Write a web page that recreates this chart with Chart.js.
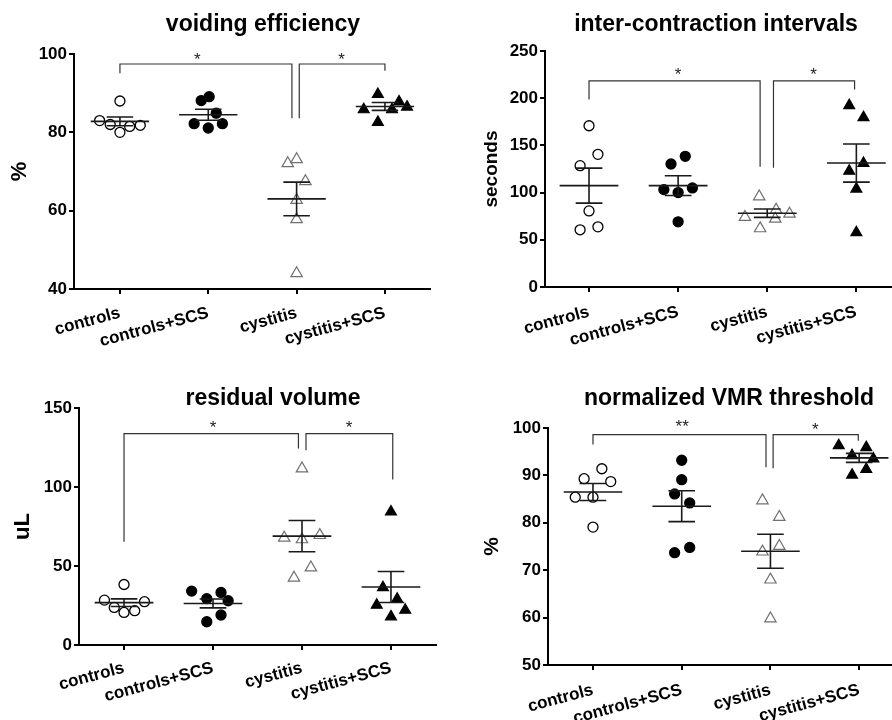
<!DOCTYPE html>
<html>
<head>
<meta charset="utf-8">
<title>Bladder function panels</title>
<script src="https://cdn.jsdelivr.net/npm/chart.js@4.4.1/dist/chart.umd.min.js"></script>
<style>
  body { margin: 0; background: #fff; }
  .panel { position: absolute; width: 446px; height: 360px; }
</style>
</head>
<body>
<div class="panel" style="left:0;top:0"><canvas id="c1" width="446" height="360"></canvas></div>
<div class="panel" style="left:446px;top:0"><canvas id="c2" width="446" height="360"></canvas></div>
<div class="panel" style="left:0;top:360px"><canvas id="c3" width="446" height="360"></canvas></div>
<div class="panel" style="left:446px;top:360px"><canvas id="c4" width="446" height="360"></canvas></div>
<script>
const categories = ['controls', 'controls+SCS', 'cystitis', 'cystitis+SCS'];

// voiding efficiency (%)
const veTicks = [40, 60, 80, 100];
const veControls = [88.0, 83.0, 82.0, 80.0, 81.5, 81.8];
const veControlsSCS = [88.1, 89.1, 84.9, 82.2, 81.1, 82.2];
const veCystitis = [72.1, 73.1, 67.5, 62.7, 57.8, 44.0];
const veCystitisSCS = [89.7, 87.8, 85.8, 86.5, 85.8, 82.6];
const veMean = [82.8, 84.5, 63.0, 86.6];
const veSem = [1.1, 1.4, 4.3, 1.0];
const veJitter = [
  [0, -0.23, -0.11, 0, 0.11, 0.23],
  [-0.08, 0.01, 0.09, -0.16, 0, 0.16],
  [-0.1, 0, 0.1, 0, 0, 0],
  [-0.08, 0.16, -0.24, 0.25, 0.08, -0.08]
];
const veBrackets = [
  [[0, 95.1], [0, 97.45], [1.947, 97.45], [1.947, 83.6]],
  [[2.03, 83.6], [2.03, 97.45], [3, 97.45], [3, 95.75]]
];
const veStars = [['*', 0.875, 99.5], ['*', 2.51, 99.5]];

// inter-contraction intervals (seconds)
const iciTicks = [0, 50, 100, 150, 200, 250];
const iciControls = [170.8, 140.5, 128.5, 80.6, 60.6, 63.7];
const iciControlsSCS = [130.3, 138.4, 103.2, 100.0, 104.9, 69.0];
const iciCystitis = [95.8, 74.0, 81.7, 72.2, 77.5, 62.0];
const iciCystitisSCS = [192.3, 179.6, 131.0, 122.9, 103.9, 57.7];
const iciMean = [107.4, 107.4, 78.2, 131.3];
const iciSem = [18.5, 10.5, 4.4, 20.2];
const iciJitter = [
  [0, 0.1, -0.1, 0, -0.1, 0.1],
  [-0.08, 0.08, -0.16, 0, 0.16, 0],
  [-0.09, -0.25, 0.1, 0.09, 0.25, -0.08],
  [-0.08, 0.08, 0.08, -0.08, 0, 0]
];
const iciBrackets = [
  [[0, 198.6], [0, 218.3], [1.92, 218.3], [1.92, 127.5]],
  [[2.07, 126.4], [2.07, 218.3], [2.98, 218.3], [2.98, 209.2]]
];
const iciStars = [['*', 1.0, 228.5], ['*', 2.52, 228.5]];

// residual volume (uL)
const rvTicks = [0, 50, 100, 150];
const rvControls = [38.3, 28.4, 27.4, 23.8, 20.6, 21.7];
const rvControlsSCS = [34.1, 33.3, 29.3, 28.0, 19.0, 14.7];
const rvCystitis = [111.6, 67.8, 66.8, 69.5, 49.0, 42.5];
const rvCystitisSCS = [84.3, 36.4, 29.1, 25.3, 22.1, 17.9];
const rvMean = [26.8, 26.3, 68.9, 36.7];
const rvSem = [2.4, 2.8, 9.9, 9.8];
const rvJitter = [
  [0, -0.22, 0.23, -0.11, 0, 0.12],
  [-0.24, 0.09, -0.07, 0.17, 0.09, -0.07],
  [0, -0.2, 0, 0.2, 0.1, -0.09],
  [0, -0.09, 0.07, -0.16, 0.16, 0]
];
const rvBrackets = [
  [[0, 65.3], [0, 133.8], [1.96, 133.8], [1.96, 124.3]],
  [[2.045, 123.2], [2.045, 133.8], [3.02, 133.8], [3.02, 104.7]]
];
const rvStars = [['*', 1.0, 139.7], ['*', 2.53, 139.7]];

// normalized VMR threshold (%)
const vmrTicks = [50, 60, 70, 80, 90, 100];
const vmrControls = [91.4, 89.3, 88.7, 85.4, 85.4, 79.1];
const vmrControlsSCS = [93.2, 89.1, 86.1, 84.2, 74.8, 73.7];
const vmrCystitis = [84.7, 81.2, 75.1, 73.9, 68.0, 59.8];
const vmrCystitisSCS = [96.3, 95.9, 94.2, 93.5, 91.3, 90.1];
const vmrMean = [86.5, 83.5, 74.0, 93.7];
const vmrSem = [1.8, 3.25, 3.6, 0.95];
const vmrJitter = [
  [0.1, -0.1, 0.2, -0.2, 0, 0],
  [0, 0, -0.08, 0.09, 0.09, -0.08],
  [-0.09, 0.1, 0.1, -0.09, 0, 0],
  [-0.23, 0.08, -0.08, 0.16, 0.08, -0.08]
];
const vmrBrackets = [
  [[0, 96.5], [0, 98.6], [1.95, 98.6], [1.95, 91.7]],
  [[2.03, 91.5], [2.03, 98.6], [2.99, 98.6], [2.99, 97.3]]
];
const vmrStars = [['**', 1.005, 101.06], ['*', 2.505, 100.35]];

Chart.defaults.font.family = '"Liberation Sans", Arial, Helvetica, sans-serif';
Chart.defaults.color = '#000';

const groupStyles = [
  { pointStyle: 'circle', radius: 5, bg: '#ffffff', border: '#000000', bw: 1.3 },
  { pointStyle: 'circle', radius: 5, bg: '#000000', border: '#000000', bw: 1.3 },
  { pointStyle: 'triangle', radius: 6.6, bg: '#ffffff', border: '#707070', bw: 1.2 },
  { pointStyle: 'triangle', radius: 6.3, bg: '#000000', border: '#000000', bw: 1.2 }
];

// panel title drawn in canvas pixels
const panelTitle = {
  id: 'panelTitle',
  afterDraw(chart, args, opts) {
    const ctx = chart.ctx;
    ctx.save();
    ctx.font = 'bold 23px "Liberation Sans", Arial, sans-serif';
    ctx.fillStyle = '#000';
    ctx.textAlign = 'center';
    ctx.textBaseline = 'middle';
    ctx.fillText(opts.text, opts.x, opts.y);
    ctx.restore();
  }
};

// significance stars placed in data units
const sigStars = {
  id: 'sigStars',
  afterDatasetsDraw(chart, args, opts) {
    const ctx = chart.ctx;
    const xs = chart.scales.x, ys = chart.scales.y;
    ctx.save();
    ctx.font = '17px "Liberation Sans", Arial, sans-serif';
    ctx.fillStyle = '#222';
    ctx.textAlign = 'center';
    ctx.textBaseline = 'middle';
    opts.items.forEach(([txt, x, y]) => {
      ctx.fillText(txt, xs.getPixelForValue(x), ys.getPixelForValue(y) + 4);
    });
    ctx.restore();
  }
};

function summaryPoints(means, sems) {
  const pts = [];
  means.forEach((m, i) => {
    const s = sems[i];
    pts.push({ x: i - 0.33, y: m }, { x: i + 0.33, y: m }, { x: i, y: null });
    pts.push({ x: i - 0.15, y: m + s }, { x: i + 0.15, y: m + s }, { x: i, y: null });
    pts.push({ x: i - 0.15, y: m - s }, { x: i + 0.15, y: m - s }, { x: i, y: null });
    pts.push({ x: i, y: m - s }, { x: i, y: m + s }, { x: i, y: null });
  });
  return pts;
}

function makePanel(p) {
  const datasets = [];
  datasets.push({
    type: 'line',
    data: summaryPoints(p.mean, p.sem),
    borderColor: '#1a1a1a',
    borderWidth: 1.6,
    pointRadius: 0,
    spanGaps: false,
    fill: false,
    order: 0
  });
  p.brackets.forEach(b => {
    datasets.push({
      type: 'line',
      data: b.map(([x, y]) => ({ x, y })),
      borderColor: '#333',
      borderWidth: 1.2,
      pointRadius: 0,
      fill: false,
      clip: false,
      order: 0
    });
  });
  p.groups.forEach((vals, g) => {
    const st = groupStyles[g];
    datasets.push({
      type: 'scatter',
      label: categories[g],
      data: vals.map((v, k) => ({ x: g + p.jitter[g][k], y: v })),
      pointStyle: st.pointStyle,
      pointRadius: st.radius,
      pointBackgroundColor: st.bg,
      pointBorderColor: st.border,
      pointBorderWidth: st.bw,
      order: 1
    });
  });

  const L = p.layout;
  return new Chart(document.getElementById(p.id), {
    type: 'scatter',
    data: { datasets },
    plugins: [panelTitle, sigStars],
    options: {
      responsive: false,
      animation: false,
      events: [],
      layout: { autoPadding: false, padding: L.pad },
      plugins: {
        legend: { display: false },
        title: { display: false },
        tooltip: { enabled: false },
        panelTitle: { text: p.title, x: L.titleX, y: L.titleY },
        sigStars: { items: p.stars }
      },
      scales: {
        x: {
          type: 'linear',
          min: L.xMin,
          max: L.xMax,
          afterBuildTicks: s => { s.ticks = categories.map((c, i) => ({ value: i })); },
          afterFit: s => { s.height = L.xH; },
          ticks: {
            callback: v => categories[v],
            minRotation: 15,
            maxRotation: 15,
            padding: L.xPad,
            autoSkip: false,
            font: { size: 17, weight: 'bold' },
            color: '#000'
          },
          grid: { drawOnChartArea: false, drawTicks: true, tickLength: 5, lineWidth: 2, color: '#000' },
          border: { display: true, color: '#000', width: 2 }
        },
        y: {
          type: 'linear',
          min: p.yTicks[0],
          max: p.yTicks[p.yTicks.length - 1],
          afterBuildTicks: s => { s.ticks = p.yTicks.map(v => ({ value: v })); },
          afterFit: s => { s.width = L.yW; },
          ticks: { padding: 2, font: { size: 17, weight: 'bold' }, color: '#000' },
          grid: { drawOnChartArea: false, drawTicks: true, tickLength: 5, lineWidth: 2, color: '#000' },
          border: { display: true, color: '#000', width: 2 },
          title: {
            display: true,
            text: p.yLabel,
            font: { size: L.yTitleSize, weight: 'bold' },
            color: '#000',
            padding: { top: L.yTitlePad, bottom: 0 }
          }
        }
      }
    }
  });
}

makePanel({
  id: 'c1', title: 'voiding efficiency', yLabel: '%', yTicks: veTicks,
  groups: [veControls, veControlsSCS, veCystitis, veCystitisSCS],
  jitter: veJitter, mean: veMean, sem: veSem, brackets: veBrackets, stars: veStars,
  layout: { yW: 74, xH: 71, pad: { left: 0, top: 54, right: 16, bottom: 0 }, xMin: -0.52, xMax: 3.51,
            xPad: 9, titleX: 263, titleY: 25, yTitleSize: 22, yTitlePad: 7 }
});
makePanel({
  id: 'c2', title: 'inter-contraction intervals', yLabel: 'seconds', yTicks: iciTicks,
  groups: [iciControls, iciControlsSCS, iciCystitis, iciCystitisSCS],
  jitter: iciJitter, mean: iciMean, sem: iciSem, brackets: iciBrackets, stars: iciStars,
  layout: { yW: 99, xH: 73, pad: { left: 0, top: 51, right: 0, bottom: 0 }, xMin: -0.494, xMax: 3.40,
            xPad: 10, titleX: 270, titleY: 25, yTitleSize: 19, yTitlePad: 34 }
});
makePanel({
  id: 'c3', title: 'residual volume', yLabel: 'uL', yTicks: rvTicks,
  groups: [rvControls, rvControlsSCS, rvCystitis, rvCystitisSCS],
  jitter: rvJitter, mean: rvMean, sem: rvSem, brackets: rvBrackets, stars: rvStars,
  layout: { yW: 79, xH: 75, pad: { left: 0, top: 48, right: 10, bottom: 0 }, xMin: -0.506, xMax: 3.506,
            xPad: 8, titleX: 273, titleY: 39, yTitleSize: 22, yTitlePad: 10 }
});
makePanel({
  id: 'c4', title: 'normalized VMR threshold', yLabel: '%', yTicks: vmrTicks,
  groups: [vmrControls, vmrControlsSCS, vmrCystitis, vmrCystitisSCS],
  jitter: vmrJitter, mean: vmrMean, sem: vmrSem, brackets: vmrBrackets, stars: vmrStars,
  layout: { yW: 102, xH: 55, pad: { left: 0, top: 68, right: 0, bottom: 0 }, xMin: -0.507, xMax: 3.37,
            xPad: 10, titleX: 283, titleY: 39, yTitleSize: 21, yTitlePad: 34 }
});
</script>
</body>
</html>
